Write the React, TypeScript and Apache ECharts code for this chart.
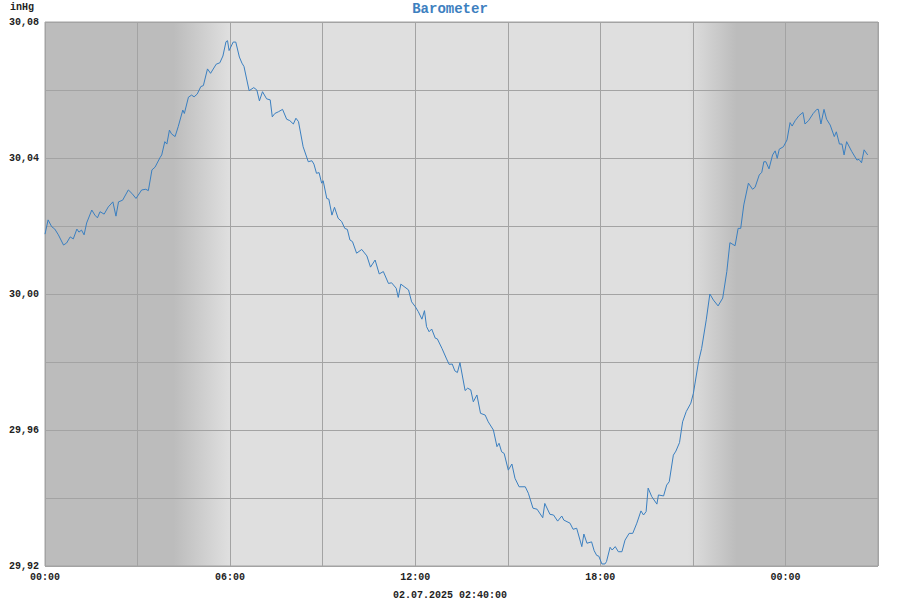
import React, { useEffect, useRef } from "react";
import * as echarts from "echarts";

// minutes since 01.07.2025 00:00
const minutes = [
  0, 6, 13, 19, 26, 36, 42, 49, 55, 62, 66, 71, 76, 81, 91, 97, 102, 107, 115, 123,
  132, 138, 143, 151, 162, 169, 177, 188, 196, 201, 208, 214, 224, 227, 233, 237, 242, 246, 253, 259,
  268, 271, 279, 285, 290, 296, 303, 308, 316, 322, 333, 340, 346, 352, 355, 358, 366, 371, 378, 383,
  387, 397, 406, 412, 417, 423, 431, 438, 442, 447, 454, 462, 470, 476, 483, 488, 493, 502, 512, 519,
  523, 528, 533, 538, 541, 548, 552, 558, 563, 570, 577, 583, 588, 593, 598, 606, 616, 626, 633, 642,
  650, 658, 668, 674, 683, 687, 692, 700, 707, 713, 720, 726, 733, 738, 742, 747, 752, 759, 763, 772,
  781, 786, 792, 797, 802, 807, 817, 822, 828, 833, 840, 847, 856, 862, 872, 879, 883, 888, 893, 901,
  908, 914, 922, 934, 940, 949, 957, 968, 972, 982, 989, 997, 1005, 1009, 1021, 1027, 1034, 1044, 1048, 1054,
  1063, 1068, 1073, 1077, 1083, 1089, 1092, 1099, 1103, 1109, 1115, 1122, 1128, 1136, 1143, 1151, 1159, 1164, 1169, 1173,
  1180, 1190, 1193, 1203, 1209, 1214, 1222, 1227, 1234, 1240, 1247, 1256, 1261, 1271, 1277, 1286, 1293, 1300, 1309, 1318,
  1326, 1332, 1342, 1348, 1353, 1359, 1368, 1376, 1381, 1389, 1394, 1398, 1402, 1408, 1415, 1420, 1424, 1428, 1436, 1443,
  1449, 1453, 1459, 1466, 1474, 1478, 1485, 1494, 1501, 1504, 1509, 1515, 1520, 1527, 1535, 1539, 1545, 1550, 1554, 1559,
  1569, 1579, 1583, 1588, 1593, 1600,
];

const pressure = [
  30.0176, 30.0218, 30.0198, 30.0191, 30.0174, 30.0144, 30.015, 30.0168, 30.0162, 30.0191, 30.0182, 30.0188, 30.0174, 30.0209, 30.0247, 30.0232, 30.0224, 30.0242, 30.0235, 30.0256,
  30.0271, 30.0229, 30.0271, 30.0276, 30.0306, 30.0296, 30.0281, 30.0306, 30.0308, 30.0304, 30.0365, 30.0373, 30.0402, 30.0409, 30.0448, 30.0441, 30.0482, 30.0471, 30.0463, 30.0492,
  30.0541, 30.0531, 30.0579, 30.0585, 30.058, 30.0588, 30.061, 30.0613, 30.0662, 30.0649, 30.0676, 30.068, 30.07, 30.0742, 30.0745, 30.0716, 30.0741, 30.0741, 30.0697, 30.0679,
  30.0669, 30.0598, 30.0607, 30.06, 30.0568, 30.0595, 30.0574, 30.0571, 30.0521, 30.0531, 30.0536, 30.0543, 30.0514, 30.051, 30.05, 30.0517, 30.0507, 30.0433, 30.0389, 30.0392,
  30.0382, 30.0355, 30.0357, 30.0326, 30.0333, 30.0281, 30.0279, 30.0232, 30.0255, 30.0223, 30.0213, 30.0193, 30.019, 30.0159, 30.0154, 30.012, 30.0131, 30.0112, 30.0079, 30.01,
  30.0059, 30.0066, 30.0031, 30.0033, 30.0017, 29.999, 30.0029, 30.002, 30.0012, 29.9977, 29.9963, 29.9948, 29.9926, 29.9951, 29.9904, 29.9889, 29.9897, 29.987, 29.9868, 29.984,
  29.9809, 29.9793, 29.9794, 29.9774, 29.9769, 29.9798, 29.9716, 29.9723, 29.9718, 29.9683, 29.9703, 29.9649, 29.9644, 29.9624, 29.96, 29.9551, 29.9561, 29.9536, 29.9531, 29.9482,
  29.95, 29.9458, 29.9433, 29.9433, 29.9414, 29.937, 29.9367, 29.9342, 29.9384, 29.9352, 29.935, 29.9332, 29.9347, 29.9335, 29.9326, 29.9308, 29.9311, 29.9257, 29.9294, 29.9267,
  29.9271, 29.9245, 29.9231, 29.9229, 29.9206, 29.9206, 29.9213, 29.9255, 29.9247, 29.9257, 29.9242, 29.9242, 29.9276, 29.9296, 29.9296, 29.9326, 29.9362, 29.935, 29.936, 29.9429,
  29.9404, 29.9382, 29.9409, 29.9406, 29.9438, 29.9448, 29.9526, 29.9538, 29.9563, 29.9624, 29.9654, 29.9679, 29.9708, 29.9801, 29.984, 29.9924, 30.0, 29.9982, 29.9965, 29.9988,
  30.0066, 30.0151, 30.0142, 30.0193, 30.0193, 30.0262, 30.0326, 30.0308, 30.0314, 30.035, 30.0358, 30.0389, 30.0389, 30.0368, 30.0409, 30.0421, 30.0399, 30.0426, 30.0433, 30.0453,
  30.0504, 30.0494, 30.051, 30.0524, 30.0534, 30.05, 30.051, 30.0531, 30.0543, 30.0543, 30.05, 30.0543, 30.0514, 30.0497, 30.0463, 30.0477, 30.0441, 30.0441, 30.0409, 30.0448,
  30.0419, 30.0394, 30.0396, 30.0386, 30.0424, 30.0409,
];

const xTickLabels = ["00:00", "06:00", "12:00", "18:00", "00:00"];
const titleText = "Barometer";
const unitText = "inHg";
const dateText = "02.07.2025 02:40:00";

// night/day shading boundaries (minutes)
const dawnStart = 250;
const dawnEnd = 358;
const duskStart = 1250;
const duskEnd = 1345;
const xMax = 1620;

export default function App() {
  const ref = useRef<HTMLDivElement>(null);
  useEffect(() => {
    if (!ref.current) return;
    const chart = echarts.init(ref.current, undefined, { renderer: "svg" });
    const dark = "#bcbcbc";
    const light = "#dfdfdf";
    const font = "'Liberation Mono', 'DejaVu Sans Mono', monospace";
    const bg = new echarts.graphic.LinearGradient(0, 0, 1, 0, [
      { offset: 0, color: dark },
      { offset: dawnStart / xMax, color: dark },
      { offset: dawnEnd / xMax, color: light },
      { offset: duskStart / xMax, color: light },
      { offset: duskEnd / xMax, color: dark },
      { offset: 1, color: dark },
    ]);
    chart.setOption({
      animation: false,
      backgroundColor: "#ffffff",
      title: {
        text: titleText,
        left: "center",
        top: -3,
        textStyle: { fontFamily: font, fontSize: 14, fontWeight: "bold", color: "#3d80bf" },
      },
      graphic: [
        {
          type: "text",
          left: 10,
          top: 2,
          style: { text: unitText, font: `bold 10px ${font}`, fill: "#222" },
        },
        {
          type: "text",
          left: "center",
          top: 590,
          style: { text: dateText, font: `bold 10px ${font}`, fill: "#222" },
        },
      ],
      grid: {
        left: 45,
        right: 22,
        top: 22,
        bottom: 34,
        show: true,
        backgroundColor: bg,
        borderColor: "#a3a3a3",
        borderWidth: 1,
      },
      xAxis: {
        type: "value",
        min: 0,
        max: xMax,
        interval: 180,
        axisLine: { show: false },
        axisTick: { show: false },
        splitLine: { show: true, lineStyle: { color: "#a3a3a3", width: 1 } },
        axisLabel: {
          margin: 6,
          fontFamily: font,
          fontSize: 10,
          fontWeight: "bold",
          color: "#222",
          formatter: (v: number) => (v % 360 === 0 ? xTickLabels[v / 360] ?? "" : ""),
        },
      },
      yAxis: {
        type: "value",
        min: 29.92,
        max: 30.08,
        interval: 0.02,
        axisLine: { show: false },
        axisTick: { show: false },
        splitLine: { show: true, lineStyle: { color: "#a3a3a3", width: 1 } },
        axisLabel: {
          margin: 6,
          fontFamily: font,
          fontSize: 10,
          fontWeight: "bold",
          color: "#222",
          formatter: (v: number) => {
            const k = Math.round(v * 100);
            return k % 4 === 0 ? (k / 100).toFixed(2).replace(".", ",") : "";
          },
        },
      },
      series: [
        {
          type: "line",
          data: minutes.map((m, i) => [m, pressure[i]]),
          showSymbol: false,
          symbol: "none",
          lineStyle: { color: "#3a7fc0", width: 1 },
          z: 5,
        },
      ],
    });
    return () => chart.dispose();
  }, []);
  return (
    <div
      ref={ref}
      style={{ position: "fixed", left: 0, top: 0, width: 900, height: 600 }}
    />
  );
}
